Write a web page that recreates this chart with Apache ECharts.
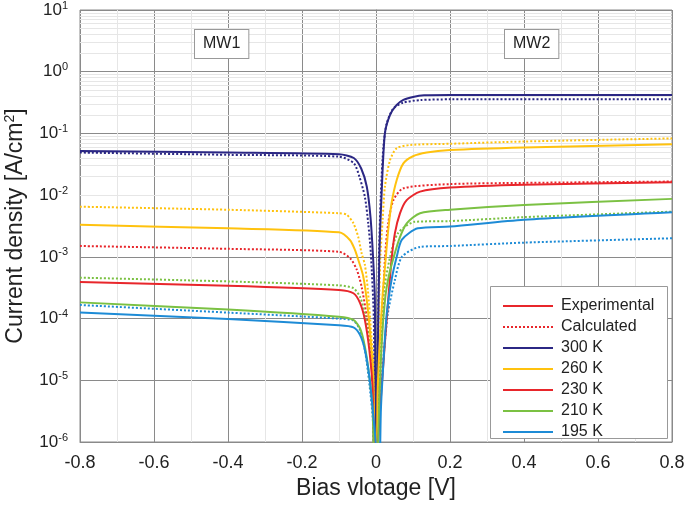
<!DOCTYPE html>
<html>
<head>
<meta charset="utf-8">
<script src="https://cdn.jsdelivr.net/npm/echarts@6/dist/echarts.min.js"></script>
<style>
  html, body {margin: 0; padding: 0; background: #fff;}
  #main {width: 685px; height: 505px;}
</style>
</head>
<body>
<div id="main"></div>
<script>
// 温度
const temps = ['300 K', '260 K', '230 K', '210 K', '195 K'];
const xTicks = [-0.8, -0.6, -0.4, -0.2, 0, 0.2, 0.4, 0.6, 0.8];

// 实验数据 [V, J]
const exp300 = [[-0.8, 0.052], [-0.4, 0.049], [-0.1, 0.046], [-0.06, 0.040], [-0.04, 0.027], [-0.025, 0.0138], [-0.015, 0.0045], [-0.008, 0.001], [-0.003, 0.0002], [0, 1e-8], [0.004, 1e-5], [0.009, 1e-3], [0.015, 0.01], [0.024, 0.1], [0.038, 0.2], [0.056, 0.29], [0.074, 0.35], [0.1, 0.39], [0.13, 0.415], [0.2, 0.42], [0.8, 0.42]];
const exp260 = [[-0.8, 0.0033], [-0.4, 0.0029], [-0.1, 0.0025], [-0.07, 0.00186], [-0.057, 0.0013], [-0.048, 0.0009], [-0.035, 5e-4], [-0.025, 2e-4], [-0.015, 5e-5], [-0.007, 1e-5], [0, 1e-8], [0.004, 5e-6], [0.01, 4e-5], [0.018, 2.5e-4], [0.026, 9e-4], [0.033, 0.0027], [0.042, 0.0074], [0.056, 0.0176], [0.074, 0.0327], [0.1, 0.0427], [0.137, 0.049], [0.2, 0.0537], [0.4, 0.059], [0.8, 0.0665]];
const exp230 = [[-0.8, 3.9e-4], [-0.4, 3.4e-4], [-0.1, 2.9e-4], [-0.061, 2.57e-4], [-0.043, 1.78e-4], [-0.03, 9.5e-5], [-0.018, 3.1e-5], [-0.009, 6.9e-6], [0, 1e-8], [0.006, 1e-6], [0.014, 6e-6], [0.024, 4e-5], [0.033, 2e-4], [0.042, 9e-4], [0.051, 0.0024], [0.065, 0.0051], [0.083, 0.0083], [0.119, 0.0114], [0.2, 0.0133], [0.4, 0.0148], [0.8, 0.0162]];
const exp210 = [[-0.8, 1.83e-4], [-0.4, 1.4e-4], [-0.1, 1.07e-4], [-0.061, 9.5e-5], [-0.043, 6.9e-5], [-0.03, 3.5e-5], [-0.018, 1.15e-5], [-0.009, 3.3e-6], [0, 1e-8], [0.006, 1e-6], [0.015, 3.5e-5], [0.025, 2.2e-4], [0.035, 5e-4], [0.048, 1e-3], [0.065, 0.0021], [0.083, 0.0035], [0.119, 0.0051], [0.2, 0.0058], [0.4, 0.0069], [0.8, 0.0087]];
const exp195 = [[-0.8, 1.26e-4], [-0.4, 9.8e-5], [-0.1, 7.8e-5], [-0.061, 7.2e-5], [-0.043, 5.4e-5], [-0.03, 3.1e-5], [-0.018, 1.15e-5], [-0.007, 2.6e-6], [0, 8e-7], [0.006, 1e-8], [0.013, 3e-6], [0.02, 1.9e-5], [0.029, 1.2e-4], [0.042, 4.2e-4], [0.056, 1e-3], [0.07, 0.0019], [0.113, 0.0029], [0.2, 0.0031], [0.4, 0.004], [0.8, 0.0053]];

// 计算数据 [V, J]
const calc300 = [[-0.8, 0.049], [-0.4, 0.045], [-0.1, 0.042], [-0.06, 0.033], [-0.045, 0.020], [-0.03, 0.0093], [-0.021, 0.0035], [-0.014, 0.00115], [-0.006, 1e-4], [0, 1e-8], [0.004, 1e-5], [0.008, 1e-3], [0.013, 0.01], [0.02, 0.061], [0.029, 0.145], [0.047, 0.255], [0.074, 0.316], [0.12, 0.347], [0.2, 0.357], [0.8, 0.357]];
const calc260 = [[-0.8, 0.0065], [-0.4, 0.0058], [-0.1, 0.0051], [-0.079, 0.0048], [-0.061, 0.0035], [-0.048, 0.0021], [-0.039, 0.00115], [-0.03, 7.4e-4], [-0.022, 2.9e-4], [-0.0135, 6.3e-5], [-0.005, 1e-5], [0, 1e-8], [0.005, 1e-5], [0.0115, 9e-4], [0.018, 0.004], [0.024, 0.0136], [0.038, 0.037], [0.056, 0.0575], [0.092, 0.065], [0.2, 0.068], [0.4, 0.074], [0.8, 0.083]];
const calc230 = [[-0.8, 0.0015], [-0.4, 0.00135], [-0.1, 0.00121], [-0.07, 9.5e-4], [-0.052, 6.2e-4], [-0.039, 3.3e-4], [-0.025, 1.07e-4], [-0.014, 3.1e-5], [-0.006, 5e-6], [0, 1e-8], [0.006, 2e-6], [0.015, 4e-5], [0.024, 9e-4], [0.033, 0.0035], [0.047, 0.0083], [0.074, 0.0129], [0.2, 0.0151], [0.4, 0.0158], [0.8, 0.0166]];
const calc210 = [[-0.8, 4.6e-4], [-0.4, 4.0e-4], [-0.1, 3.45e-4], [-0.061, 3.1e-4], [-0.043, 2.24e-4], [-0.03, 1.2e-4], [-0.018, 4e-5], [-0.009, 8.9e-6], [0, 1e-8], [0.005, 1.5e-6], [0.012, 4e-5], [0.019, 2.2e-4], [0.038, 1e-3], [0.059, 0.0024], [0.105, 0.0037], [0.2, 0.0038], [0.4, 0.0044], [0.8, 0.0054]];
const calc195 = [[-0.8, 1.66e-4], [-0.4, 1.25e-4], [-0.1, 1.0e-4], [-0.061, 9.3e-5], [-0.043, 6.5e-5], [-0.03, 3.1e-5], [-0.018, 8.9e-6], [-0.008, 2e-6], [0, 1e-8], [0.005, 1e-6], [0.019, 1.9e-5], [0.032, 1.2e-4], [0.051, 4.2e-4], [0.07, 1e-3], [0.119, 0.00145], [0.2, 0.0015], [0.4, 0.0017], [0.8, 0.002]];

const expData = [exp300, exp260, exp230, exp210, exp195];
const calcData = [calc300, calc260, calc230, calc210, calc195];
const colors = ['#2b2784', '#ffc20e', '#e8262b', '#7bc143', '#1d8bd6'];
const font = 'Liberation Sans, Arial, sans-serif';

// 对数次网格 2..9
const minorY = [];
for (let e = -6; e < 1; e++) {
  for (let k = 2; k <= 9; k++) minorY.push({yAxis: k * Math.pow(10, e)});
}

const myChart = echarts.init(document.getElementById('main'));

const series = [
  {
    name: 'grid-minor', type: 'line', data: [], z: 1, silent: true,
    markLine: {
      silent: true, symbol: 'none', label: {show: false}, animation: false, z: 1,
      lineStyle: {color: '#e6e6e6', type: 'solid', width: 1},
      data: minorY
    }
  },
  {name: 'Experimental', type: 'line', data: [], symbol: 'none', color: colors[2], lineStyle: {width: 2}},
  {name: 'Calculated', type: 'line', data: [], symbol: 'none', color: colors[2], lineStyle: {width: 2, type: [2, 2]}}
];
temps.forEach((t, i) => {
  series.push({
    name: t + ' calc', type: 'line', data: calcData[i], symbol: 'none', smooth: 0.25,
    color: colors[i], lineStyle: {width: 2, type: [2, 2]}, z: 3
  });
});
temps.forEach((t, i) => {
  series.push({
    name: t, type: 'line', data: expData[i], symbol: 'none', smooth: 0.25,
    color: colors[i], lineStyle: {width: 2}, z: 3
  });
});

const legendBase = {
  orient: 'vertical', left: 497, itemWidth: 50, itemHeight: 14, itemGap: 5, z: 6,
  itemStyle: {color: 'transparent', borderWidth: 0, opacity: 0},
  textStyle: {fontSize: 16, color: '#222', fontFamily: font, padding: [0, 0, 0, 3]}
};

myChart.setOption({
  backgroundColor: '#fff',
  animation: false,
  textStyle: {fontFamily: font},
  grid: {
    left: 80, right: 13, top: 10, bottom: 63, show: true, borderColor: '#8a8a8a', borderWidth: 1,
    outerBoundsMode: 'none', containLabel: false
  },
  legend: [
    Object.assign({}, legendBase, {top: 293, data: ['Experimental', 'Calculated']}),
    Object.assign({}, legendBase, {top: 335, data: temps})
  ],
  graphic: [
    {type: 'rect', left: 490, top: 286, z: 5, shape: {width: 177, height: 152},
      style: {fill: '#fff', stroke: '#999', lineWidth: 1}},
    {type: 'text', left: 194, top: 29, z: 5,
      style: {text: 'MW1', fontSize: 16, fontFamily: font, fill: '#222', backgroundColor: '#fff',
        borderColor: '#999', borderWidth: 1, padding: [6, 8, 6, 8]}},
    {type: 'text', left: 504, top: 29, z: 5,
      style: {text: 'MW2', fontSize: 16, fontFamily: font, fill: '#222', backgroundColor: '#fff',
        borderColor: '#999', borderWidth: 1, padding: [6, 8, 6, 8]}}
  ],
  xAxis: {
    type: 'value', min: -0.8, max: 0.8, interval: 0.2,
    name: 'Bias vlotage [V]', nameLocation: 'middle', nameGap: 34,
    nameTextStyle: {fontSize: 23, color: '#222'},
    axisLine: {show: true, lineStyle: {color: '#8a8a8a'}},
    axisTick: {show: false},
    axisLabel: {
      fontSize: 18, color: '#222', margin: 12,
      formatter: v => xTicks.some(t => Math.abs(t - v) < 1e-9) ? (Math.abs(v) < 1e-9 ? '0' : v.toFixed(1)) : ''
    },
    splitLine: {show: true, lineStyle: {color: '#8a8a8a', width: 1}},
    minorTick: {show: false, splitNumber: 2},
    minorSplitLine: {show: true, lineStyle: {color: '#e6e6e6', width: 1}}
  },
  yAxis: {
    type: 'log', logBase: 10, min: 1e-6, max: 10,
    name: '{a|Current density [A/cm}{s|2}{a|]}', nameLocation: 'middle', nameGap: 51,
    nameTextStyle: {
      fontSize: 23, color: '#222',
      rich: {
        a: {fontSize: 23, color: '#222', fontFamily: font},
        s: {fontSize: 14, color: '#222', fontFamily: font, verticalAlign: 'top', padding: [0, 0, 12, 0]}
      }
    },
    axisLine: {show: true, lineStyle: {color: '#8a8a8a'}},
    axisTick: {show: false},
    axisLabel: {
      margin: 12, color: '#222',
      formatter: v => '{b|10}{s|' + Math.round(Math.log10(v)) + '}',
      rich: {
        b: {fontSize: 17, color: '#222', fontFamily: font},
        s: {fontSize: 11, color: '#222', fontFamily: font, verticalAlign: 'top', padding: [0, 0, 9, 0]}
      }
    },
    splitLine: {show: true, lineStyle: {color: '#8a8a8a', width: 1}}
  },
  series: series
});
</script>
</body>
</html>
